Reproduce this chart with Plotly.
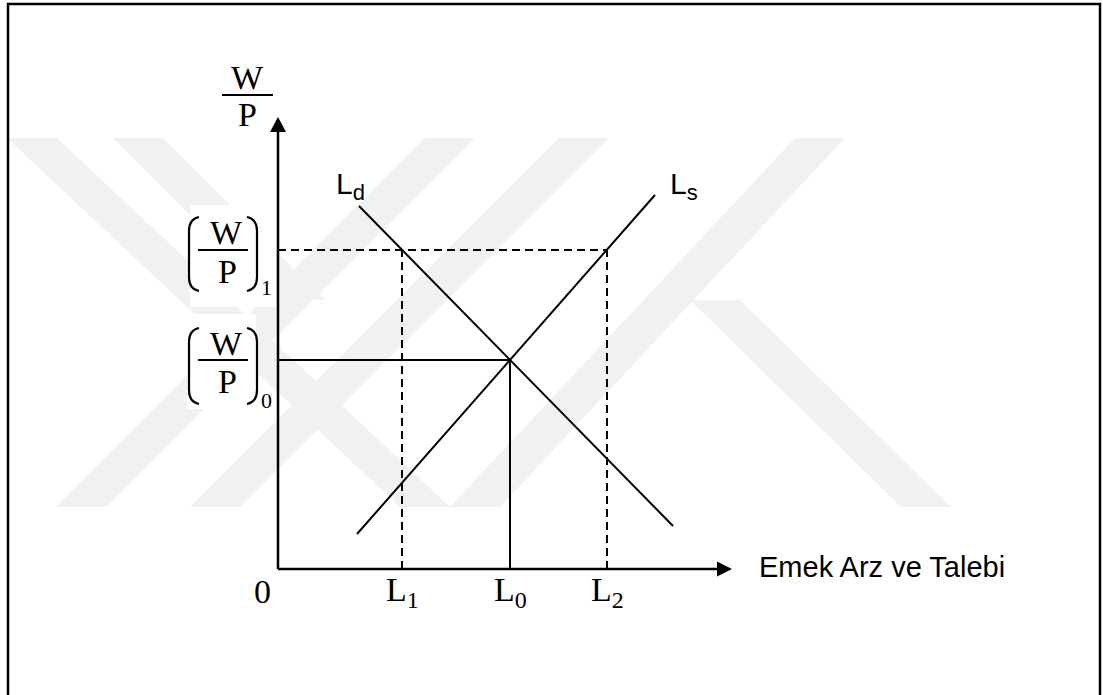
import plotly.graph_objects as go

# --- data (economic units, origin at the axes corner) ---
x_axis_len = 45.4
y_axis_len = 45.2

L_names = ["L<sub>1</sub>", "L<sub>0</sub>", "L<sub>2</sub>"]
L_vals = [12.4, 23.2, 32.9]

w0 = 20.9   # (W/P)0
w1 = 31.9   # (W/P)1

Ld_x = [8.1, 39.5]
Ld_y = [36.3, 4.3]
Ls_x = [7.9, 37.7]
Ls_y = [3.5, 37.4]

# watermark bands (pixel polygons, decoration only)
wm_bands = [
    [(7, 138), (57, 138), (450, 507), (400, 507)],
    [(56, 507), (106, 507), (475, 138), (425, 138)],
    [(113, 138), (163, 138), (325, 300), (275, 300)],
    [(190, 507), (240, 507), (609, 138), (559, 138)],
    [(450, 507), (500, 507), (845, 138), (795, 138)],
    [(690, 300), (740, 300), (951, 507), (901, 507)],
]

W, H = 1103, 695
ox, oy, k = 278, 569, 10.0   # pixel origin and pixels per unit
x_range = [-ox / k, (W - ox) / k]
y_range = [-(H - oy) / k, oy / k]


def px(x, y):
    return (x - ox) / k, (oy - y) / k


fig = go.Figure()

shapes = []
for band in wm_bands:
    pts = [px(a, b) for a, b in band]
    path = "M " + " L ".join(f"{a},{b}" for a, b in pts) + " Z"
    shapes.append(dict(type="path", path=path, fillcolor="#f1f1f1",
                       line=dict(width=0), layer="below"))

# white boxes behind the y labels
for x0, y0, x1, y1 in [(190, 205, 276, 307), (187, 314, 256, 409)]:
    a0, b0 = px(x0, y0)
    a1, b1 = px(x1, y1)
    shapes.append(dict(type="rect", x0=a0, y0=b0, x1=a1, y1=b1,
                       fillcolor="white", line=dict(width=0), layer="below"))

# outer frame
shapes.append(dict(type="rect", xref="paper", yref="paper",
                   x0=8 / W, x1=1100 / W, y0=-0.05, y1=1 - 4 / H,
                   line=dict(color="black", width=2.5)))

# axes
shapes.append(dict(type="line", x0=0, y0=0, x1=0, y1=y_axis_len - 1.4,
                   line=dict(color="black", width=2.5)))
shapes.append(dict(type="line", x0=0, y0=0, x1=x_axis_len - 1.4, y1=0,
                   line=dict(color="black", width=2.5)))
shapes.append(dict(type="path",
                   path=f"M 0,{y_axis_len} L -0.8,{y_axis_len - 1.5} L 0.8,{y_axis_len - 1.5} Z",
                   fillcolor="black", line=dict(width=0)))
shapes.append(dict(type="path",
                   path=f"M {x_axis_len},0 L {x_axis_len - 1.5},0.75 L {x_axis_len - 1.5},-0.75 Z",
                   fillcolor="black", line=dict(width=0)))

# guide lines
dash = dict(color="black", width=2, dash="8px,5px")
solid = dict(color="black", width=2)
shapes.append(dict(type="line", x0=0, y0=w1, x1=L_vals[2], y1=w1, line=dash))
shapes.append(dict(type="line", x0=0, y0=w0, x1=L_vals[1], y1=w0, line=solid))
shapes.append(dict(type="line", x0=L_vals[1], y0=0, x1=L_vals[1], y1=w0, line=solid))
for i in (0, 2):
    shapes.append(dict(type="line", x0=L_vals[i], y0=0, x1=L_vals[i], y1=w1, line=dash))


# big parentheses around (W/P)
def paren(xc, ytop, ybot, left=True):
    s = 1 if left else -1
    pts = [(xc + s * 10, ytop), (xc, ytop + 2), (xc, ytop + 14),
           (xc, ybot - 14), (xc, ybot - 2), (xc + s * 10, ybot)]
    p = [px(a, b) for a, b in pts]
    return (f"M {p[0][0]},{p[0][1]} Q {p[1][0]},{p[1][1]} {p[2][0]},{p[2][1]} "
            f"L {p[3][0]},{p[3][1]} Q {p[4][0]},{p[4][1]} {p[5][0]},{p[5][1]}")


for ytop, ybot in [(217, 291), (328, 404)]:
    for xc, left in [(189, True), (257, False)]:
        shapes.append(dict(type="path", path=paren(xc, ytop, ybot, left),
                           line=dict(color="black", width=2.2)))

# fraction bars
for x0, x1, yb in [(222, 273, 95), (198, 248, 250), (198, 248, 360)]:
    a0, b = px(x0, yb)
    a1, _ = px(x1, yb)
    shapes.append(dict(type="line", x0=a0, y0=b, x1=a1, y1=b,
                       line=dict(color="black", width=2)))

# curves
fig.add_trace(go.Scatter(x=Ld_x, y=Ld_y, mode="lines",
                         line=dict(color="black", width=2), showlegend=False))
fig.add_trace(go.Scatter(x=Ls_x, y=Ls_y, mode="lines",
                         line=dict(color="black", width=2), showlegend=False))

serif = dict(family="Liberation Serif, Times New Roman, serif", size=34, color="black")
sans = dict(family="Liberation Sans, Arial, sans-serif", size=30, color="black")

ann = []


def text(xp, yp, s, font, xanchor="center"):
    a, b = px(xp, yp)
    ann.append(dict(x=a, y=b, text=s, showarrow=False, font=font,
                    xanchor=xanchor, yanchor="middle"))


sub_serif = dict(serif, size=22)
text(247, 77, "W", serif)
text(247, 114, "P", serif)
for yw, yp, ys, sub in [(232, 271, 287, "1"), (343, 381, 400, "0")]:
    text(226, yw, "W", serif)
    text(227, yp, "P", serif)
    text(266, ys, sub, sub_serif)

text(262, 591, "0", serif)
for name, v in zip(L_names, L_vals):
    ann.append(dict(x=v, y=-2.3,
                    text=name.replace("<sub>", "<sub><span style='font-size:24px'>")
                    .replace("</sub>", "</span></sub>"),
                    showarrow=False, font=serif, xanchor="center", yanchor="middle"))

text(334, 186, "L<sub><span style='font-size:22px'>d</span></sub>", sans, xanchor="left")
text(668, 186, "L<sub><span style='font-size:22px'>s</span></sub>", sans, xanchor="left")
text(757, 567, "Emek Arz ve Talebi", dict(sans, size=29), xanchor="left")

fig.update_layout(
    width=W, height=H,
    margin=dict(l=0, r=0, t=0, b=0),
    paper_bgcolor="white", plot_bgcolor="white",
    xaxis=dict(range=x_range, visible=False, fixedrange=True),
    yaxis=dict(range=y_range, visible=False, fixedrange=True),
    shapes=shapes, annotations=ann,
)

fig.write_html("out.html", config={"displayModeBar": False},
               post_script="document.body.style.margin='0px';")
